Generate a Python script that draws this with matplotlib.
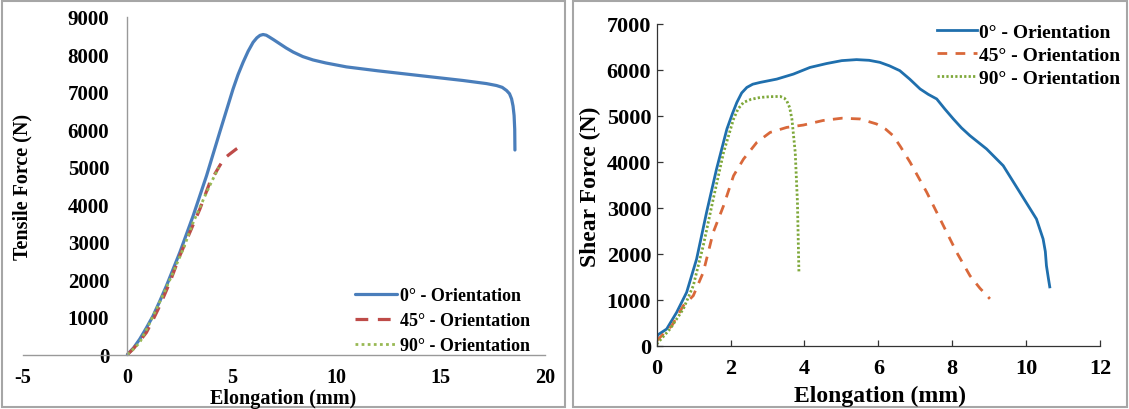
import matplotlib
matplotlib.use("Agg")
import matplotlib.pyplot as plt
from matplotlib.patches import Rectangle

plt.rcParams['font.family'] = ['Liberation Serif', 'DejaVu Serif']
plt.rcParams['font.weight'] = 'bold'
plt.rcParams['axes.unicode_minus'] = False

labels = ["0° - Orientation", "45° - Orientation", "90° - Orientation"]

# ---- Left panel: tensile ----
t0_x = [0, 0.30, 0.59, 0.90, 1.23, 1.55, 1.87, 2.51, 3.15, 3.79, 4.42, 5.06, 5.30, 5.54, 5.78, 6.02, 6.20, 6.35,
        6.50, 6.65, 6.80, 7.00, 7.30, 7.60, 7.94, 8.40, 8.89, 9.50, 10.49, 12.0, 13.69, 16.08, 17.20, 17.68,
        17.95, 18.16, 18.30, 18.40, 18.47, 18.52, 18.55, 18.56]
t0_y = [0, 180, 409, 700, 1031, 1420, 1831, 2720, 3698, 4764, 5920, 7076, 7460, 7787, 8080, 8320, 8440, 8505,
        8528, 8510, 8460, 8390, 8280, 8170, 8060, 7940, 7850, 7770, 7665, 7560, 7453, 7302, 7220, 7168,
        7120, 7035, 6950, 6813, 6620, 6368, 6000, 5450]
t45_x = [0, 0.27, 0.59, 0.91, 1.23, 1.55, 2.03, 2.51, 2.99, 3.47, 3.95, 4.42, 4.65, 4.90, 5.20, 5.40, 5.58]
t45_y = [0, 142, 360, 587, 930, 1298, 1920, 2631, 3253, 3876, 4587, 5031, 5230, 5342, 5470, 5540, 5564]
t90_x = [0, 0.30, 0.59, 1.00, 1.39, 1.80, 2.19, 2.70, 3.15, 3.79, 4.10, 4.38]
t90_y = [0, 150, 320, 760, 1209, 1700, 2187, 2850, 3520, 4320, 4680, 4987]

# ---- Right panel: shear ----
s0_x = [0, 0.02, 0.27, 0.54, 0.81, 1.08, 1.35, 1.62, 1.90, 2.05, 2.17, 2.30, 2.44, 2.60, 2.80, 3.25, 3.70, 4.15,
        4.60, 5.01, 5.41, 5.75, 6.04, 6.30, 6.58, 6.85, 7.13, 7.35, 7.58, 7.80, 8.03, 8.25, 8.48, 8.93, 9.38,
        9.83, 10.28, 10.46, 10.52, 10.55, 10.60, 10.64]
s0_y = [100, 230, 363, 725, 1160, 1885, 2901, 3843, 4714, 5050, 5294, 5500, 5620, 5690, 5729, 5801, 5910, 6055,
        6140, 6203, 6225, 6210, 6166, 6090, 5985, 5800, 5587, 5470, 5369, 5150, 4934, 4740, 4570, 4281, 3917,
        3338, 2757, 2322, 2050, 1741, 1480, 1280]
s45_x = [0, 0.41, 0.72, 0.99, 1.26, 1.53, 1.81, 2.08, 2.35, 2.71, 3.07, 3.52, 3.97, 4.50, 5.01, 5.50, 5.95,
         6.20, 6.40, 6.60, 6.86, 7.31, 7.76, 8.12, 8.48, 8.75, 9.02]
s45_y = [109, 435, 870, 1088, 1595, 2466, 3046, 3698, 4061, 4424, 4641, 4750, 4801, 4900, 4950, 4934, 4825,
         4710, 4570, 4330, 3991, 3338, 2612, 2032, 1523, 1250, 1020]
s90_x = [0, 0.36, 0.72, 0.99, 1.26, 1.53, 1.81, 2.08, 2.20, 2.35, 2.55, 2.80, 3.05, 3.34, 3.45, 3.52, 3.60, 3.66,
         3.75, 3.81, 3.85]
s90_y = [36, 363, 798, 1305, 2175, 3190, 4206, 4931, 5150, 5294, 5360, 5402, 5418, 5424, 5390, 5330, 5180, 4931,
         4206, 3118, 1595]

W, H = 1129, 410
fig = plt.figure(figsize=(W / 100, H / 100), dpi=100)

def fx(px):
    return px / W

def fy(py):
    return 1 - py / H

# panel frames
for (x0, x1) in [(2, 565), (573, 1127)]:
    fig.patches.append(Rectangle((fx(x0), fy(408)), fx(x1) - fx(x0), fy(2) - fy(408),
                                 transform=fig.transFigure, fill=False, edgecolor='#a6a6a6', lw=1.5))

# ---------- left axes ----------
axL = fig.add_axes([fx(23), fy(355.5), fx(545) - fx(23), fy(17.8) - fy(355.5)])
axL.plot(t0_x, t0_y, color='#4a7ebb', lw=2.3, solid_capstyle='round', solid_joinstyle='round', label=labels[0])
axL.plot(t45_x, t45_y, color='#be4b48', lw=2.3, ls=(0, (4, 3)), label=labels[1])
axL.plot(t90_x, t90_y, color='#98b954', lw=2.0, ls=(0, (1, 1.2)), label=labels[2])
axL.set_xlim(-5, 20)
axL.set_ylim(0, 9000)
axL.set_xticks([-5, 0, 5, 10, 15, 20])
axL.set_yticks(range(0, 9001, 1000))
for s in ['top', 'right']:
    axL.spines[s].set_visible(False)
axL.spines['left'].set_position(('data', 0))
axL.spines['left'].set_color('#999999')
axL.spines['bottom'].set_color('#999999')
axL.spines['left'].set_linewidth(1.0)
axL.spines['bottom'].set_linewidth(1.0)
axL.tick_params(axis='both', length=0, labelsize=15)
axL.tick_params(axis='x', labelsize=14.5)
axL.tick_params(axis='y', pad=13)
axL.tick_params(axis='x', pad=9)
for lab in axL.get_xticklabels() + axL.get_yticklabels():
    lab.set_fontweight('bold')
axL.patch.set_alpha(0)
fig.text(fx(283), fy(399), "Elongation (mm)", ha='center', va='center', fontsize=14.5, fontweight='bold')
fig.text(fx(22), fy(187), "Tensile Force (N)", ha='center', va='center', rotation=90, fontsize=14.5,
         fontweight='bold')
legL = axL.legend(loc='upper left', bbox_to_anchor=(fx(355), fy(288)), bbox_transform=fig.transFigure,
                  frameon=False, fontsize=13, handlelength=2.3, handletextpad=0.2, labelspacing=0.45,
                  borderpad=0, borderaxespad=0)
for t in legL.get_texts():
    t.set_fontweight('bold')

# ---------- right axes ----------
axR = fig.add_axes([fx(656.7), fy(346.7), fx(1100) - fx(656.7), fy(25) - fy(346.7)])
axR.plot(s0_x, s0_y, color='#1f6fad', lw=2.0, solid_joinstyle='round', label=labels[0])
axR.plot(s45_x, s45_y, color='#d9683a', lw=2.0, ls=(0, (3.5, 3)), label=labels[1])
axR.plot(s90_x, s90_y, color='#7ea83a', lw=2.0, ls=(0, (0.8, 0.8)), label=labels[2])
axR.set_xlim(0, 12)
axR.set_ylim(0, 7000)
axR.set_xticks(range(0, 13, 2))
axR.set_yticks(range(0, 7001, 1000))
for s in ['top', 'right']:
    axR.spines[s].set_visible(False)
for s in ['left', 'bottom']:
    axR.spines[s].set_color('#333333')
    axR.spines[s].set_linewidth(0.9)
axR.tick_params(axis='both', direction='in', length=4, width=0.9, color='#333333', labelsize=16)
axR.tick_params(axis='y', pad=4)
axR.tick_params(axis='x', pad=9)
for lab in axR.get_xticklabels() + axR.get_yticklabels():
    lab.set_fontweight('bold')
axR.patch.set_alpha(0)
fig.text(fx(880), fy(396), "Elongation (mm)", ha='center', va='center', fontsize=17, fontweight='bold')
fig.text(fx(590), fy(187), "Shear Force (N)", ha='center', va='center', rotation=90, fontsize=17,
         fontweight='bold')
legR = axR.legend(loc='upper left', bbox_to_anchor=(fx(937), fy(24)), bbox_transform=fig.transFigure,
                  frameon=False, fontsize=14, handlelength=2.05, handletextpad=0.1, labelspacing=0.28,
                  borderpad=0, borderaxespad=0)
for t in legR.get_texts():
    t.set_fontweight('bold')

fig.savefig("out.png", dpi=100)
